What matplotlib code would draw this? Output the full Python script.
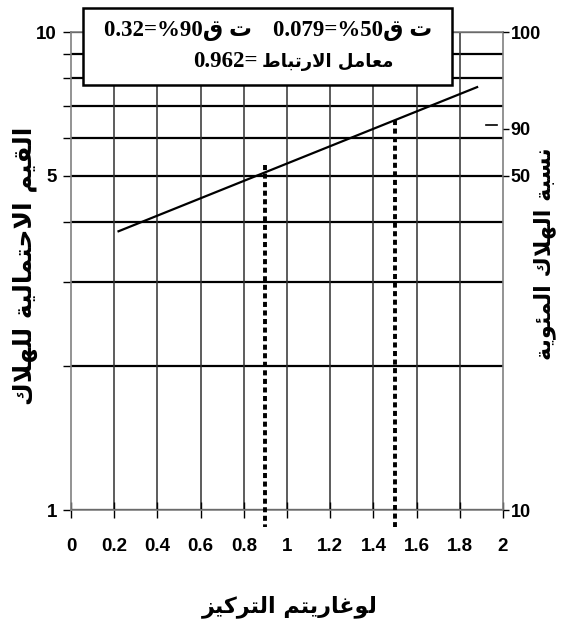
import matplotlib
matplotlib.use('Agg')
import matplotlib.pyplot as plt
from matplotlib.patches import Rectangle

# القيم المقروءة من الرسم
log_conc = [0.22, 1.88]          # طرفا خط الانحدار (لوغاريتم التركيز)
probit_fit = [3.83, 7.67]        # القيم الاحتمالية عند الطرفين
lc50_x = [0.9, 0.9]
lc50_y = [5.27, 0.92]
lc90_x = [1.5, 1.5]
lc90_y = [6.54, 0.92]
mark_x = [1.92, 1.97]
mark_y = [6.4, 6.4]

x_ticks = [0, 0.2, 0.4, 0.6, 0.8, 1, 1.2, 1.4, 1.6, 1.8, 2]
x_labels = ['0', '0.2', '0.4', '0.6', '0.8', '1', '1.2', '1.4', '1.6', '1.8', '2']
grid_probit = [1, 2, 3, 4, 5, 6, 7, 8, 9, 10]
left_ticks = [1, 5, 10]
left_labels = ['1', '5', '10']
right_ticks = [1, 5, 6.28, 10]
right_labels = ['10', '50', '90', '100']

# أشكال الحروف العربية: منفصل، نهائي، بدائي، وسطي
FORMS = {
    'ا': ('\uFE8D', '\uFE8E', None, None),
    'ب': ('\uFE8F', '\uFE90', '\uFE91', '\uFE92'),
    'ة': ('\uFE93', '\uFE94', None, None),
    'ت': ('\uFE95', '\uFE96', '\uFE97', '\uFE98'),
    'ح': ('\uFEA1', '\uFEA2', '\uFEA3', '\uFEA4'),
    'ر': ('\uFEAD', '\uFEAE', None, None),
    'ز': ('\uFEAF', '\uFEB0', None, None),
    'س': ('\uFEB1', '\uFEB2', '\uFEB3', '\uFEB4'),
    'ط': ('\uFEC1', '\uFEC2', '\uFEC3', '\uFEC4'),
    'ع': ('\uFEC9', '\uFECA', '\uFECB', '\uFECC'),
    'غ': ('\uFECD', '\uFECE', '\uFECF', '\uFED0'),
    'ق': ('\uFED5', '\uFED6', '\uFED7', '\uFED8'),
    'ك': ('\uFED9', '\uFEDA', '\uFEDB', '\uFEDC'),
    'ل': ('\uFEDD', '\uFEDE', '\uFEDF', '\uFEE0'),
    'م': ('\uFEE1', '\uFEE2', '\uFEE3', '\uFEE4'),
    'ن': ('\uFEE5', '\uFEE6', '\uFEE7', '\uFEE8'),
    'ه': ('\uFEE9', '\uFEEA', '\uFEEB', '\uFEEC'),
    'و': ('\uFEED', '\uFEEE', None, None),
    'ي': ('\uFEF1', '\uFEF2', '\uFEF3', '\uFEF4'),
    'ئ': ('\uFE89', '\uFE8A', '\uFE8B', '\uFE8C'),
    'لا': ('\uFEFB', '\uFEFC', None, None),
}


def shape(text):
    # تشكيل الحروف ثم قلب الترتيب للعرض من اليسار لليمين
    chars = []
    i = 0
    while i < len(text):
        if text[i] == 'ل' and i + 1 < len(text) and text[i + 1] == 'ا':
            chars.append('لا')
            i += 2
        else:
            chars.append(text[i])
            i += 1
    out = []
    for k, c in enumerate(chars):
        f = FORMS.get(c)
        if f is None:
            out.append(c)
            continue
        prev = chars[k - 1] if k > 0 else None
        nxt = chars[k + 1] if k + 1 < len(chars) else None
        jp = prev in FORMS and FORMS[prev][2] is not None
        jn = nxt in FORMS and f[2] is not None
        if jp and jn:
            out.append(f[3])
        elif jp:
            out.append(f[1])
        elif jn:
            out.append(f[2])
        else:
            out.append(f[0])
    return ''.join(reversed(out))


num_font = ['Liberation Sans', 'DejaVu Sans']
ar_font = ['DejaVu Sans']
box_font = ['Liberation Serif', 'DejaVu Sans']

fig = plt.figure(figsize=(5.64, 6.32), dpi=100)
ax = fig.add_axes([0.1259, 0.1930, 0.7660, 0.7563])
ax.set_yscale('log')
ax.set_xlim(0, 2)
ax.set_ylim(1, 10)

for v in grid_probit:
    ax.axhline(v, color='black', lw=1.6, zorder=1)
for v in x_ticks[1:-1]:
    ax.axvline(v, color='#303030', lw=1.1, zorder=1)

ax.plot(log_conc, probit_fit, color='black', lw=1.6, zorder=3)
ax.plot(lc50_x, lc50_y, color='black', lw=2.8, linestyle=(0, (1.3, 0.9)), clip_on=False, zorder=3)
ax.plot(lc90_x, lc90_y, color='black', lw=2.8, linestyle=(0, (1.3, 0.9)), clip_on=False, zorder=3)
ax.plot(mark_x, mark_y, color='black', lw=1.2, zorder=3)

for s in ax.spines.values():
    s.set_color('#808080')
    s.set_linewidth(1.2)

ax.set_xticks(x_ticks)
ax.set_xticklabels(x_labels, family=num_font, fontweight='bold', fontsize=13.5)
ax.tick_params(axis='x', direction='inout', length=12, width=1, pad=14)

ax.set_yticks(left_ticks)
ax.set_yticklabels(left_labels, family=num_font, fontweight='bold', fontsize=13.5)
ax.set_yticks([2, 3, 4, 6, 7, 8, 9], minor=True)
ax.yaxis.set_minor_formatter(plt.NullFormatter())
ax.tick_params(axis='y', which='both', direction='out', length=6, width=1, pad=4)

ax2 = ax.twinx()
ax2.set_yscale('log')
ax2.set_ylim(1, 10)
ax2.set_yticks(right_ticks)
ax2.set_yticklabels(right_labels, family=num_font, fontweight='bold', fontsize=13)
ax2.yaxis.set_minor_locator(plt.NullLocator())
ax2.tick_params(axis='y', direction='out', length=4, width=1, pad=1.5)
for s in ax2.spines.values():
    s.set_visible(False)

fig.text(0.046, 0.58, shape('القيم الاحتمالية للهلاك'), rotation=90, ha='center', va='center',
         family=ar_font, fontweight='bold', fontsize=18)
fig.text(0.965, 0.598, shape('نسبة الهلاك المئوية'), rotation=90, ha='center', va='center',
         family=ar_font, fontweight='bold', fontsize=16)
fig.text(0.513, 0.040, shape('لوغاريتم التركيز'), ha='center', va='center',
         family=ar_font, fontweight='bold', fontsize=16)

box = Rectangle((0.147, 0.8655), 0.654, 0.1218, transform=fig.transFigure,
                facecolor='white', edgecolor='black', lw=1.8, zorder=5)
fig.patches.append(box)
fig.text(0.316, 0.952, '0.32=%90' + shape('ت ق'), ha='center', va='center',
         family=box_font, fontweight='bold', fontsize=16.5, zorder=6)
fig.text(0.626, 0.952, '0.079=%50' + shape('ت ق'), ha='center', va='center',
         family=box_font, fontweight='bold', fontsize=16.5, zorder=6)
fig.text(0.457, 0.902, '0.962=', ha='right', va='center',
         family=box_font, fontweight='bold', fontsize=16.5, zorder=6)
fig.text(0.464, 0.902, shape('معامل الارتباط'), ha='left', va='center',
         family=ar_font, fontweight='bold', fontsize=13, zorder=6)

fig.savefig('out.png', dpi=100)
